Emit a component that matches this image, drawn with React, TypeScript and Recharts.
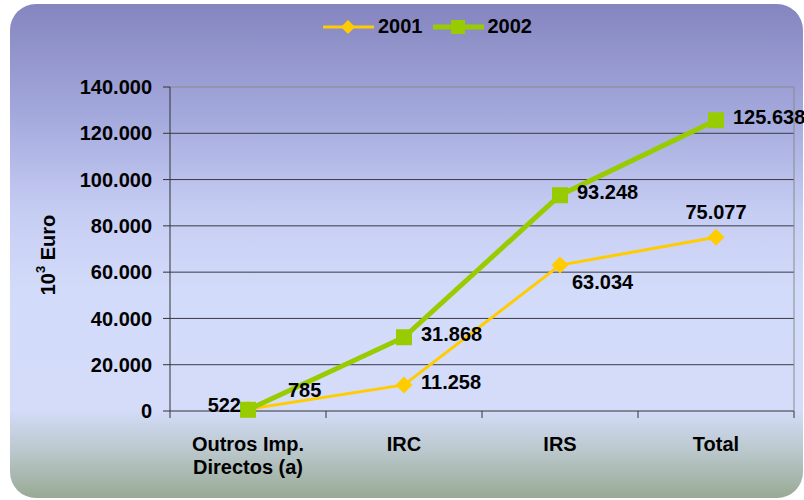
import { LineChart, Line, XAxis, YAxis, CartesianGrid, LabelList } from "recharts";

const categories = ["Outros Imp.\nDirectos (a)", "IRC", "IRS", "Total"];
const values2001 = [785, 11258, 63034, 75077];
const values2002 = [522, 31868, 93248, 125638];
const yTicks = [0, 20000, 40000, 60000, 80000, 100000, 120000, 140000];
const gridValues = [20000, 40000, 60000, 80000, 100000, 120000];
const boundaryTicks = [-0.5, 0.5, 1.5, 2.5, 3.5];
// where each value label sits relative to its point
const labelPlace2001 = ["upRight", "right", "downRight", "up"];
const labelPlace2002 = ["left", "right", "right", "right"];

const data = categories.map((name, i) => ({
  name,
  pos: i,
  y2001: values2001[i],
  y2002: values2002[i],
}));

const FONT = "'Liberation Sans', Arial, sans-serif";
const YELLOW = "#ffcc00";
const GREEN = "#99cc00";

const fmt = (v: number) => String(v).replace(/\B(?=(\d{3})+(?!\d))/g, ".");

const OFFSETS: Record<string, { dx: number; dy: number; anchor: "start" | "middle" | "end" }> = {
  upRight: { dx: 40, dy: -19, anchor: "start" },
  right: { dx: 17, dy: -3, anchor: "start" },
  downRight: { dx: 12, dy: 17, anchor: "start" },
  up: { dx: 0, dy: -25, anchor: "middle" },
  left: { dx: -7, dy: -5, anchor: "end" },
};

const placeLabel = (places: string[]) => (props: any) => {
  const { x, y, value, index } = props;
  const o = OFFSETS[places[index]];
  return (
    <text
      x={x + o.dx}
      y={y + o.dy}
      textAnchor={o.anchor}
      dominantBaseline="central"
      fontFamily={FONT}
      fontWeight="bold"
      fontSize={20}
      fill="#000"
    >
      {fmt(value)}
    </text>
  );
};

const SquareDot = (props: any) => {
  const { cx, cy } = props;
  if (cx == null || cy == null) return null;
  return <rect x={cx - 8} y={cy - 8} width={16} height={16} fill={GREEN} />;
};

const DiamondDot = (props: any) => {
  const { cx, cy } = props;
  if (cx == null || cy == null) return null;
  return (
    <polygon
      points={`${cx},${cy - 8.5} ${cx + 8.5},${cy} ${cx},${cy + 8.5} ${cx - 8.5},${cy}`}
      fill={YELLOW}
    />
  );
};

const CategoryTick = (props: any) => {
  const { x, y, payload } = props;
  const lines = String(payload.value).split("\n");
  return (
    <text
      x={x}
      y={y + 39}
      textAnchor="middle"
      fontFamily={FONT}
      fontWeight="bold"
      fontSize={20}
      fill="#000"
    >
      {lines.map((l, i) => (
        <tspan key={i} x={x} dy={i === 0 ? 0 : 23}>
          {l}
        </tspan>
      ))}
    </text>
  );
};

const YLabel = (props: any) => {
  const { viewBox } = props;
  const cx = viewBox.x + 48;
  const cy = viewBox.y + viewBox.height / 2 + 6;
  return (
    <text
      x={cx}
      y={cy}
      transform={`rotate(-90, ${cx}, ${cy})`}
      textAnchor="middle"
      dominantBaseline="central"
      fontFamily={FONT}
      fontWeight="bold"
      fontSize={20}
      fill="#000"
    >
      10
      <tspan dy={-8} fontSize={13}>
        3
      </tspan>
      <tspan dy={8}> Euro</tspan>
    </text>
  );
};

const LegendItem = ({ label, color, square }: { label: string; color: string; square: boolean }) => (
  <div style={{ display: "flex", alignItems: "center", gap: 4 }}>
    <svg width={51} height={18}>
      <line x1={0} y1={9} x2={51} y2={9} stroke={color} strokeWidth={square ? 5 : 3} />
      {square ? (
        <rect x={18} y={2} width={14} height={14} fill={color} />
      ) : (
        <polygon points="25,2 32,9 25,16 18,9" fill={color} />
      )}
    </svg>
    <span style={{ fontFamily: FONT, fontWeight: "bold", fontSize: 20, color: "#000" }}>{label}</span>
  </div>
);

export default function App() {
  return (
    <div style={{ position: "absolute", left: 0, top: 0, width: 804, height: 500, background: "#fff" }}>
      <div
        style={{
          position: "absolute",
          left: 10,
          top: 4,
          width: 793,
          height: 494,
          borderRadius: 26,
          background:
            "linear-gradient(to bottom, #8585bf 0%, #a3a8dc 22%, #c6cdf3 42%, #d3dbfa 58%, #d4dcfa 82%, #bcc9cf 90%, #98aa94 100%)",
        }}
      />
      <div
        style={{
          position: "absolute",
          left: 323,
          top: 15,
          display: "flex",
          alignItems: "center",
          gap: 10,
        }}
      >
        <LegendItem label="2001" color={YELLOW} square={false} />
        <LegendItem label="2002" color={GREEN} square={true} />
      </div>
      <div style={{ position: "absolute", left: 0, top: 0 }}>
        <LineChart width={804} height={500} data={data} margin={{ top: 86, right: 9, bottom: 87, left: 0 }}>
          <CartesianGrid
            vertical={false}
            horizontalValues={gridValues}
            stroke="#3a3a44"
            xAxisId="cat"
            yAxisId="left"
          />
          <XAxis
            xAxisId="bounds"
            type="number"
            dataKey="pos"
            domain={[-0.5, 3.5]}
            ticks={boundaryTicks}
            allowDataOverflow
            height={1}
            tickSize={7}
            tickFormatter={() => ""}
            axisLine={{ stroke: "#333" }}
            tickLine={{ stroke: "#333" }}
          />
          <XAxis
            xAxisId="cat"
            dataKey="name"
            scale="band"
            height={1}
            tickSize={0}
            tickMargin={0}
            axisLine={false}
            tickLine={false}
            tick={<CategoryTick />}
            interval={0}
          />
          <XAxis
            xAxisId="top"
            orientation="top"
            dataKey="name"
            height={1}
            tick={false}
            tickLine={false}
            axisLine={{ stroke: "#8a8a8a" }}
          />
          <YAxis
            yAxisId="left"
            width={170}
            domain={[0, 140000]}
            ticks={yTicks}
            tickFormatter={fmt}
            tickSize={7}
            tickMargin={11}
            axisLine={{ stroke: "#333" }}
            tickLine={{ stroke: "#333" }}
            tick={{ fill: "#000", fontFamily: FONT, fontWeight: "bold", fontSize: 20 }}
            label={<YLabel />}
          />
          <YAxis
            yAxisId="right"
            orientation="right"
            width={1}
            domain={[0, 140000]}
            tick={false}
            tickLine={false}
            axisLine={{ stroke: "#8a8a8a" }}
          />
          <Line
            xAxisId="cat"
            yAxisId="left"
            dataKey="y2001"
            name="2001"
            type="linear"
            stroke={YELLOW}
            strokeWidth={3}
            dot={<DiamondDot />}
            activeDot={false}
            isAnimationActive={false}
          >
            <LabelList dataKey="y2001" content={placeLabel(labelPlace2001)} />
          </Line>
          <Line
            xAxisId="cat"
            yAxisId="left"
            dataKey="y2002"
            name="2002"
            type="linear"
            stroke={GREEN}
            strokeWidth={5}
            dot={<SquareDot />}
            activeDot={false}
            isAnimationActive={false}
          >
            <LabelList dataKey="y2002" content={placeLabel(labelPlace2002)} />
          </Line>
        </LineChart>
      </div>
    </div>
  );
}
